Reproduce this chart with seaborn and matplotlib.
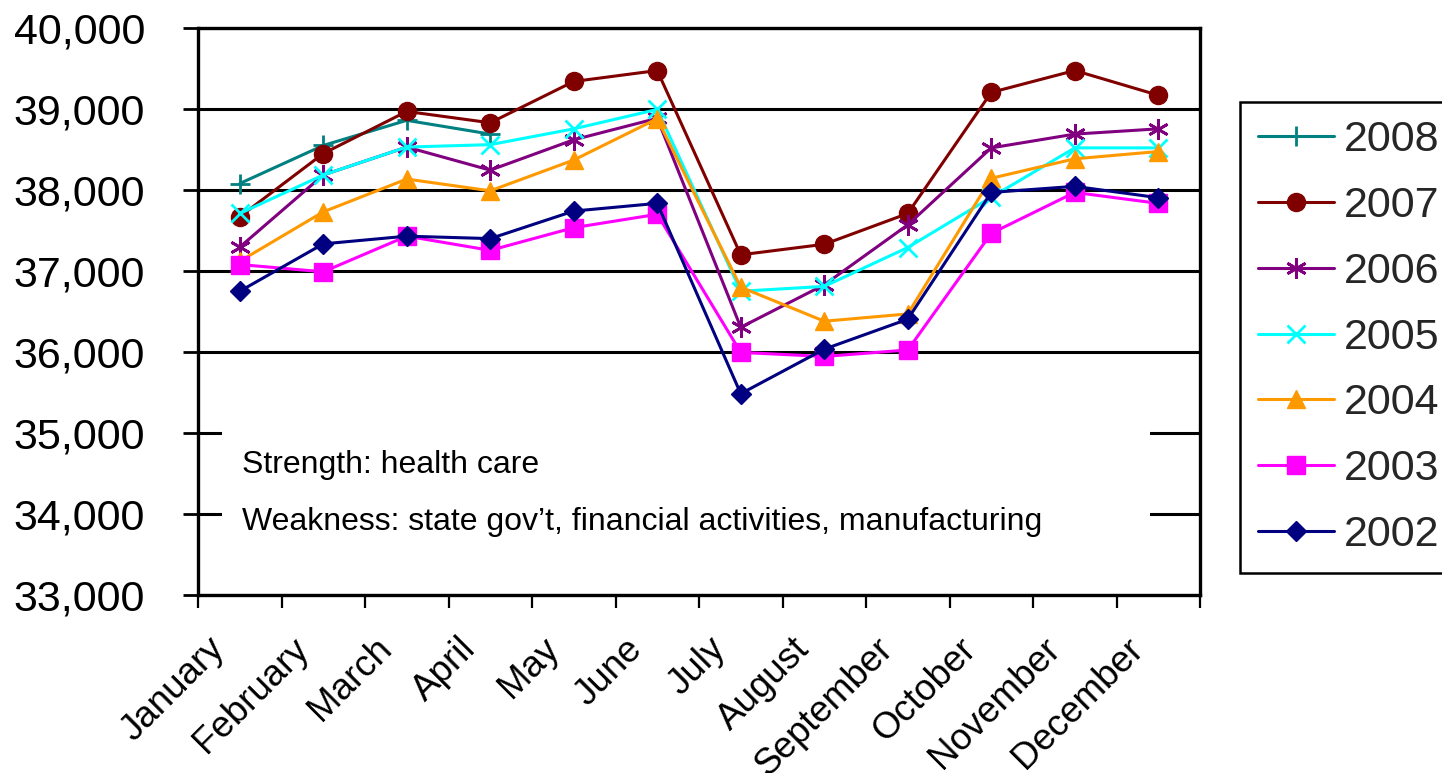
import numpy as np
import pandas as pd
import matplotlib
matplotlib.use("Agg")
import matplotlib.pyplot as plt
import matplotlib.transforms as mtransforms
from matplotlib.patches import Rectangle
from matplotlib.ticker import FuncFormatter
import seaborn as sns

months = ["January", "February", "March", "April", "May", "June", "July",
          "August", "September", "October", "November", "December"]
years = ["2008", "2007", "2006", "2005", "2004", "2003", "2002"]

v2008 = [38080, 38550, 38860, 38690]
v2007 = [37670, 38450, 38970, 38830, 39340, 39475, 37200, 37330, 37710, 39205, 39475, 39170]
v2006 = [37295, 38185, 38530, 38245, 38620, 38885, 36305, 36830, 37570, 38520, 38690, 38755]
v2005 = [37710, 38185, 38530, 38560, 38755, 38995, 36750, 36810, 37290, 37910, 38520, 38520]
v2004 = [37120, 37730, 38135, 37990, 38370, 38880, 36800, 36380, 36470, 38145, 38385, 38475]
v2003 = [37080, 36990, 37430, 37255, 37535, 37700, 35995, 35945, 36025, 37465, 37970, 37835]
v2002 = [36750, 37335, 37430, 37400, 37740, 37835, 35485, 36035, 36405, 37970, 38045, 37905]
series = [v2008, v2007, v2006, v2005, v2004, v2003, v2002]

note_lines = ["Strength: health care",
              "Weakness: state gov\u2019t, financial activities, manufacturing"]

colors = ["#008080", "#800000", "#800080", "#00FFFF", "#FF9900", "#FF00FF", "#000080"]
markers = ["+", "o", (6, 2, 0), "x", "^", "s", "D"]
msizes = [14, 13, 15, 13, 13, 13, 10]
mews = [2.0, 1, 2.0, 2.0, 1, 1, 1]

sns.set_theme(style="white")
plt.rcParams["font.family"] = ["Liberation Sans", "DejaVu Sans"]

fig = plt.figure(figsize=(14.42, 7.73), dpi=100)
L, R, T, B = 198, 1200, 28, 595
W, H = 1442, 773
ax = fig.add_axes([L / W, 1 - B / H, (R - L) / W, (B - T) / H])

for yr, vals, c, m, ms, mew in zip(years, series, colors, markers, msizes, mews):
    df = pd.DataFrame({"pos": np.arange(len(vals)), "value": vals})
    sns.lineplot(data=df, x="pos", y="value", ax=ax, color=c, marker=m,
                 markersize=ms, markeredgecolor=c, markerfacecolor=c,
                 markeredgewidth=mew, linewidth=2.2, label=yr, zorder=3)

ax.set_xlim(-0.5, 11.5)
ax.set_ylim(33000, 40000)
ax.set_xlabel("")
ax.set_ylabel("")

ax.set_yticks(np.arange(33000, 40001, 1000))
ax.yaxis.set_major_formatter(FuncFormatter(lambda v, p: f"{int(v):,}"))
ax.tick_params(axis="y", which="major", direction="out", length=11, width=2,
               color="black", pad=27, labelsize=31, labelcolor="black", left=True)

ax.set_xticks(np.arange(-0.5, 12, 1))
ax.set_xticklabels([])
ax.set_xticks(np.arange(12), minor=True)
ax.set_xticklabels(months, minor=True, rotation=45, ha="right", va="center",
                   rotation_mode="anchor")
ax.tick_params(axis="x", which="major", direction="out", length=9, width=1.6,
               color="black", bottom=True)
ax.tick_params(axis="x", which="minor", length=0, pad=35, labelsize=26.5,
               labelcolor="black")
offset = mtransforms.ScaledTranslation(-20 / 100, 0, fig.dpi_scale_trans)
for lab in ax.get_xticklabels(minor=True):
    lab.set_transform(lab.get_transform() + offset)

ax.yaxis.grid(True, color="black", linewidth=2.2)
ax.xaxis.grid(False)
ax.set_axisbelow(True)
for s in ax.spines.values():
    s.set_visible(True)
    s.set_color("black")
    s.set_linewidth(2.4)

# white text box covering part of the grid
x0 = -0.5 + (222 - L) / ((R - L) / 12)
x1 = -0.5 + (1150 - L) / ((R - L) / 12)
ytop = 40000 - (410 - T) / ((B - T) / 7000)
ybot = 40000 - (565 - T) / ((B - T) / 7000)
ax.add_patch(Rectangle((x0, ybot), x1 - x0, ytop - ybot, facecolor="white",
                       edgecolor="none", zorder=1.5))
tx = -0.5 + (242 - L) / ((R - L) / 12)
for i, line in enumerate(note_lines):
    yb = 40000 - (473 + 57 * i - T) / ((B - T) / 7000)
    ax.text(tx, yb, line, fontsize=23, color="black", va="baseline", ha="left",
            zorder=4)

leg = ax.legend(loc="upper left", bbox_to_anchor=(1240 / W, 1 - 102 / H),
                bbox_transform=fig.transFigure, fontsize=31, frameon=True,
                fancybox=False, framealpha=1, edgecolor="black",
                borderaxespad=0, handlelength=1.77, handletextpad=0.22,
                labelspacing=0.6, borderpad=0.42)
leg.get_frame().set_linewidth(1.8)

fig.savefig("out.png", dpi=100, facecolor="white")
